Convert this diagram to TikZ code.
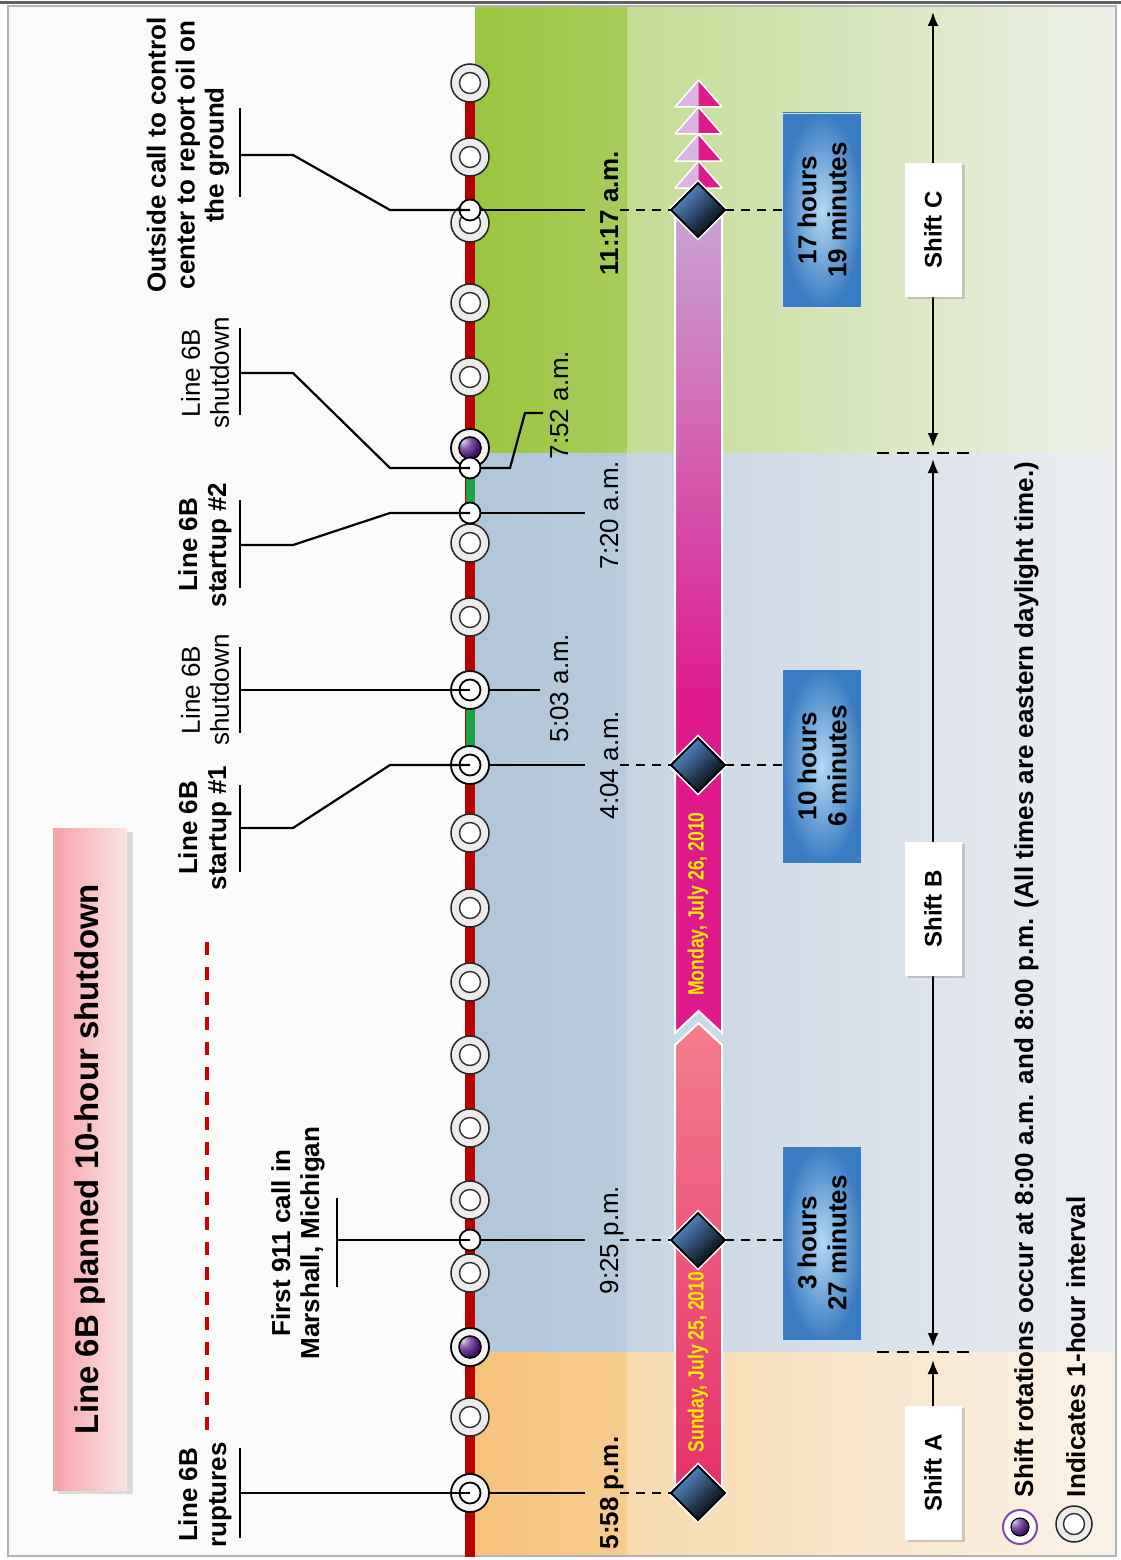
\documentclass[tikz,border=0pt]{standalone}
\usepackage{fontspec}
\setmainfont{Liberation Sans}
\newfontfamily\condfont[FakeStretch=0.8]{Liberation Sans}
\usetikzlibrary{arrows.meta,shapes.geometric,shadows}
\definecolor{redline}{HTML}{CC0000}
\definecolor{greenline}{HTML}{1DA346}
\definecolor{gA}{HTML}{9AC53F}
\definecolor{gB}{HTML}{A8CD5C}
\definecolor{gC}{HTML}{C3DC92}
\definecolor{gD}{HTML}{D4E5B4}
\definecolor{gE}{HTML}{EEF1EA}
\definecolor{bA}{HTML}{B2C6DA}
\definecolor{bB}{HTML}{B9CBDD}
\definecolor{bC}{HTML}{C6D4E2}
\definecolor{bD}{HTML}{D6DFE8}
\definecolor{bE}{HTML}{ECEEF1}
\definecolor{oA}{HTML}{F6C37B}
\definecolor{oB}{HTML}{F7CB8E}
\definecolor{oC}{HTML}{F8DAAD}
\definecolor{oD}{HTML}{F9E5C8}
\definecolor{oE}{HTML}{FAF3EA}
\definecolor{sunTop}{HTML}{F37D8C}
\definecolor{sunBot}{HTML}{E6306C}
\definecolor{lav}{HTML}{C9A3D6}
\definecolor{mag}{HTML}{DE1A8D}
\definecolor{triL}{HTML}{DCB2E2}
\definecolor{diablue}{HTML}{5A92D4}
\definecolor{boxdark}{HTML}{3A7CC1}
\definecolor{boxlight}{HTML}{B4DAF5}
\definecolor{purp}{HTML}{5C1E96}
\definecolor{datey}{HTML}{FFEE00}
\definecolor{titleL}{HTML}{F4A2A9}
\definecolor{titleR}{HTML}{FDE4E4}
\begin{document}
\begin{tikzpicture}[x=1pt,y=-1pt,
  every node/.style={inner sep=0pt, outer sep=0pt},
  lbl/.style={rotate=90, align=center, font=\fontsize{26}{29}\selectfont},
  lblb/.style={lbl, font=\bfseries\fontsize{26}{29}\selectfont},
  tm/.style={rotate=90, anchor=base, font=\fontsize{26}{29}\selectfont},
  tmb/.style={tm, font=\bfseries\fontsize{26}{29}\selectfont},
  leader/.style={line width=2.2pt, black},
  barline/.style={line width=2.8pt, black},
  dashlink/.style={line width=2.2pt, black, dash pattern=on 9pt off 7pt},
  hourc/.style={circle, minimum size=38pt, fill=gray!15, draw=gray!30!black, line width=1.5pt,
    path picture={\draw[gray!35!black, line width=1.4pt, fill=white] (path picture bounding box.center) circle[radius=10.5pt];}},
  blackc/.style={circle, minimum size=38pt, fill=gray!8, draw=black, line width=1.8pt,
    path picture={\draw[black, line width=1.8pt, fill=white] (path picture bounding box.center) circle[radius=10.5pt];}},
  purplec/.style={circle, minimum size=38pt, fill=gray!10, draw=black, line width=1.8pt,
    path picture={\draw[black, line width=1.6pt, ball color=purp] (path picture bounding box.center) circle[radius=11pt];}},
  evc/.style={circle, minimum size=21pt, fill=white, draw=black, line width=1.8pt},
  dia/.style={diamond, aspect=1, minimum width=54pt, minimum height=54pt, draw=black, line width=2pt,
    top color=diablue, middle color=diablue!85!black, bottom color=black, shading angle=45,
    preaction={draw=white, line width=5pt}},
  durbox/.style={rotate=90, minimum width=194pt, minimum height=79pt, inner color=boxlight, outer color=boxdark,
    draw=boxlight!70!white, line width=0.8pt, align=center, font=\bfseries\fontsize{26}{30}\selectfont},
  shiftbox/.style={rotate=90, minimum width=134pt, minimum height=57pt, fill=white,
    drop shadow={shadow xshift=3pt, shadow yshift=-2pt, opacity=0.35}, font=\bfseries\fontsize{24}{28}\selectfont},
  datetxt/.style={rotate=90, text=datey, font=\condfont\bfseries\fontsize{22}{26}\selectfont},
  shiftarrow/.style={line width=2.2pt, black},
  sepdash/.style={line width=2.8pt, black, dash pattern=on 12pt off 8pt}
]
\useasboundingbox (0,0) rectangle (1121,1560);
\fill[white] (0,0) rectangle (1121,1560);
\fill[gray!4] (8,6) rectangle (1116,1556);
% ---------- background bands ----------
\shade[left color=gA, right color=gB] (475,6) rectangle (627,453);
\shade[left color=gC, middle color=gD, right color=gE] (627,6) rectangle (1116,453);
\shade[left color=bA, right color=bB] (475,453) rectangle (627,1352);
\shade[left color=bC, middle color=bD, right color=bE] (627,453) rectangle (1116,1352);
\shade[left color=oA, right color=oB] (475,1352) rectangle (627,1556);
\shade[left color=oC, middle color=oD, right color=oE] (627,1352) rectangle (1116,1556);
% frame
\draw[gray!60, line width=1.5pt] (8,6) rectangle (1116,1556);
\draw[gray!75!black, line width=3pt] (0,3) -- (1121,3);
% ---------- title ----------
\fill[gray!45, opacity=0.6] (58,832) rectangle (133,1494);
\shade[left color=titleL, right color=titleR] (53,828) rectangle (127,1490);
\node[rotate=90, font=\bfseries\fontsize{33}{36}\selectfont] (title) at (90,1159) {Line 6B planned 10-hour shutdown};
\coordinate (rd1) at (207,933);
\coordinate (rd2) at (207,1430);
\draw[redline, line width=3.5pt, dash pattern=on 13pt off 12pt] (rd2) -- (rd1);
% ---------- timeline ----------
\coordinate (ltop) at (470,83);
\coordinate (lbot) at (470,1557);
\draw[redline!90!black, line width=10pt] (ltop) -- (lbot);
\coordinate (g1a) at (470,765); \coordinate (g1b) at (470,690);
\coordinate (g2a) at (470,513); \coordinate (g2b) at (470,468);
\draw[greenline, line width=9pt] (g1a) -- (g1b);
\draw[greenline, line width=9pt] (g2a) -- (g2b);
% hour circles
\foreach \yy [count=\i] in {83,157,223,303,377,543,617,833,908,982,1055,1128,1200,1273,1417}
  \node[hourc] (h\i) at (470,\yy) {};
\node[purplec] (p1) at (470,448) {};
\node[purplec] (p2) at (470,1347) {};
% event markers
\node[blackc] (e1) at (470,1493) {};
\node[evc] (e2) at (470,1240) {};
\node[blackc] (e3) at (470,765) {};
\node[blackc] (e4) at (470,690) {};
\node[evc] (e5) at (470,513) {};
\node[evc] (e6) at (470,468) {};
\node[evc] (e7) at (470,210) {};
% ---------- left labels ----------
\node[lblb] (L1) at (205,1495) {Line 6B\\ruptures};
\node[lblb] (L2) at (298,1243) {First 911 call in\\Marshall, Michigan};
\node[lblb] (L3) at (205,828) {Line 6B\\startup \#1};
\node[lbl]  (L4) at (205,690) {Line 6B\\shutdown};
\node[lblb] (L5) at (205,545) {Line 6B\\startup \#2};
\node[lbl]  (L6) at (205,373) {Line 6B\\shutdown};
\node[lblb] (L7) at (188,155) {Outside call to control\\center to report oil on\\the ground};
% bars
\coordinate (b1) at (240,1493); \coordinate (b2) at (337,1240); \coordinate (b3) at (240,828);
\coordinate (b4) at (240,690);  \coordinate (b5) at (240,545);  \coordinate (b6) at (240,373);
\coordinate (b7) at (240,155);
\draw[barline] (240,1448) -- (240,1538);
\draw[barline] (337,1198) -- (337,1287);
\draw[barline] (240,785) -- (240,872);
\draw[barline] (240,647) -- (240,733);
\draw[barline] (240,500) -- (240,588);
\draw[barline] (240,328) -- (240,415);
\draw[barline] (240,108) -- (240,197);
% leaders
\draw[leader] (e1.center) -- (b1);
\draw[leader] (e2.center) -- (b2);
\draw[leader] (e3.center) -- (390,765) -- (293,828) -- (b3);
\draw[leader] (e4.center) -- (b4);
\draw[leader] (e5.center) -- (390,513) -- (293,545) -- (b5);
\draw[leader] (e6.center) -- (390,468) -- (293,373) -- (b6);
\draw[leader] (e7.center) -- (390,210) -- (293,155) -- (b7);
% ---------- date bar ----------
\shade[top color=sunTop, bottom color=sunBot] (675,1490) -- (675,1045) -- (698.5,1023) -- (722,1045) -- (722,1490) -- cycle;
\draw[white, line width=2pt] (675,1490) -- (675,1045) -- (698.5,1023) -- (722,1045) -- (722,1490);
\shade[top color=lav, bottom color=mag] (675,212) rectangle (722,700);
\fill[mag] (675,699) -- (722,699) -- (722,1033) -- (698.5,1011) -- (675,1033) -- cycle;
\draw[white, line width=2pt] (675,212) -- (675,1033) -- (698.5,1011) -- (722,1033) -- (722,212);
\foreach \k in {0,1,2,3} {
  \pgfmathsetmacro\tip{80+27*\k}
  \pgfmathsetmacro\bse{107+27*\k}
  \fill[triL] (675,\bse) -- (698.5,\tip) -- (698.5,\bse) -- cycle;
  \fill[mag] (698.5,\tip) -- (722,\bse) -- (698.5,\bse) -- cycle;
  \draw[white, line width=1.5pt, line join=round] (675,\bse) -- (698.5,\tip) -- (722,\bse) -- cycle;
}
\node[datetxt] (sun) at (698,1362) {Sunday, July 25, 2010};
\node[datetxt] (mon) at (698,904) {Monday, July 26, 2010};
% ---------- times ----------
\node[tmb] (t1) at (618,1493) {5:58 p.m.};
\node[tm]  (t2) at (618,1240) {9:25 p.m.};
\node[tm]  (t3) at (618,765) {4:04 a.m.};
\node[tm]  (t4) at (568,688) {5:03 a.m.};
\node[tm]  (t5) at (618,515) {7:20 a.m.};
\node[tm]  (t6) at (568,405) {7:52 a.m.};
\node[tmb] (t7) at (618,213) {11:17 a.m.};
% diamonds
\node[dia] (d1) at (698,1493) {};
\node[dia] (d2) at (698,1240) {};
\node[dia] (d3) at (698,765) {};
\node[dia] (d4) at (698,210) {};
% duration boxes
\node[durbox] (x2) at (822,1243) {3 hours\\27 minutes};
\node[durbox] (x3) at (822,766) {10 hours\\6 minutes};
\node[durbox] (x4) at (822,210) {17 hours\\19 minutes};
% right links
\draw[leader] (e1.east) -- (585,1493);
\draw[dashlink] (620,1493) -- (d1.west);
\draw[leader] (e2.east) -- (585,1240);
\draw[dashlink] (620,1240) -- (d2.west);
\draw[dashlink] (d2.east) -- (d2.east -| x2.north);
\draw[leader] (e3.east) -- (585,765);
\draw[dashlink] (620,765) -- (d3.west);
\draw[dashlink] (d3.east) -- (d3.east -| x3.north);
\draw[leader] (e4.east) -- (540,690);
\draw[leader] (e5.east) -- (585,513);
\coordinate (k1) at (510,468); \coordinate (k2) at (525,413); \coordinate (k3) at (543,413);
\draw[leader] (e6.east) -- (k1) -- (k2) -- (k3);
\draw[leader] (e7.east) -- (585,210);
\draw[dashlink] (620,210) -- (d4.west);
\draw[dashlink] (d4.east) -- (d4.east -| x4.north);
% ---------- shifts ----------
\coordinate (sc1) at (933,12); \coordinate (sc2) at (933,447);
\coordinate (sb1) at (933,459); \coordinate (sb2) at (933,1347);
\coordinate (sa2) at (933,1360);
\draw[shiftarrow, {Latex[length=14pt,width=11pt]}-{Latex[length=14pt,width=11pt]}] (sc1) -- (sc2);
\draw[shiftarrow, {Latex[length=14pt,width=11pt]}-{Latex[length=14pt,width=11pt]}] (sb1) -- (sb2);
\node[shiftbox] (sC) at (933,230) {Shift C};
\node[shiftbox] (sB) at (933,909) {Shift B};
\node[shiftbox] (sA) at (933,1473) {Shift A};
\draw[shiftarrow, -{Latex[length=14pt,width=11pt]}] (sA.east) -- (sa2);
\coordinate (q1) at (877,453); \coordinate (q2) at (977,453);
\coordinate (q3) at (877,1352); \coordinate (q4) at (977,1352);
\draw[sepdash] (q1) -- (q2);
\draw[sepdash] (q3) -- (q4);
% ---------- legend ----------
\node[circle, minimum size=34pt, fill=white, draw=purp!80, line width=2pt,
  path picture={\draw[black, line width=1.2pt, ball color=purp] (path picture bounding box.center) circle[radius=9pt];}] (lg1) at (1020,1527) {};
\node[hourc, minimum size=36pt] (lg2) at (1074,1524) {};
\node[rotate=90, anchor=base west, font=\bfseries\fontsize{26}{29}\selectfont] (lt1) at (1033,1497)
  {Shift rotations occur at 8:00 a.m. and 8:00 p.m. (All times are eastern daylight time.)};
\node[rotate=90, anchor=base west, font=\bfseries\fontsize{26}{29}\selectfont] (lt2) at (1085,1497)
  {Indicates 1-hour interval};
\end{tikzpicture}
\end{document}
